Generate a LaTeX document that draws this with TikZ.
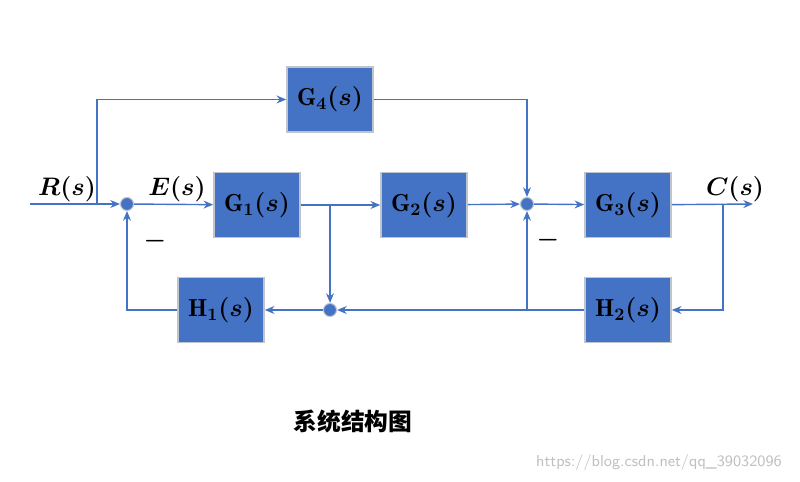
\documentclass[tikz,border=0pt]{standalone}
\usepackage{amsmath}
\usepackage{fontspec}
\newfontfamily\cjk{Noto Sans CJK SC}
\usepackage{tikz}
\usetikzlibrary{arrows.meta, positioning}

\definecolor{ctrlblue}{HTML}{4472C4}
\definecolor{ctrlrim}{HTML}{C0C4CC}

\begin{document}
\begin{tikzpicture}[
    x=0.02cm, y=-0.02cm,
    % Styles
    block/.style={
        rectangle, draw=ctrlrim, fill=ctrlblue, line width=0.9pt,
        minimum width=1.72cm, minimum height=1.3cm,
        font=\fontsize{14}{16}\selectfont\boldmath, text=black
    },
    junction/.style={
        circle, draw=ctrlrim, fill=ctrlblue, line width=0.6pt,
        minimum size=0.26cm, inner sep=0pt
    },
    signal/.style={
        -{Stealth[length=5.5pt, width=4.5pt]}, line width=0.8pt, draw=ctrlblue
    },
    siglabel/.style={
        font=\fontsize{14}{16}\selectfont\boldmath, text=black
    },
    minus/.style={
        font=\fontsize{14}{16}\selectfont\boldmath, text=black
    }
]
\useasboundingbox (0,0) rectangle (800,482);

% ── Blocks ──────────────────────────────────────────────────────────────────
\node[block] (gfour) at (330, 99.5) {$\mathrm{G}_4(s)$};
\node[block] (gone) at (257, 205) {$\mathrm{G}_1(s)$};
\node[block] (gtwo) at (424, 205) {$\mathrm{G}_2(s)$};
\node[block] (gthree) at (628, 205) {$\mathrm{G}_3(s)$};
\node[block] (hone) at (221, 310) {$\mathrm{H}_1(s)$};
\node[block] (htwo) at (628, 310) {$\mathrm{H}_2(s)$};

% ── Summing junctions ───────────────────────────────────────────────────────
\node[junction] (sumone) at (127, 204) {};
\node[junction] (sumtwo) at (330, 310) {};
\node[junction] (sumthree) at (527, 204) {};

% ── Free ends and branch points ─────────────────────────────────────────────
\coordinate (rin) at (30, 204);
\coordinate (rsplit) at (97, 204);
\coordinate (gsplit) at (330, 204);
\coordinate (csplit) at (723, 204);
\coordinate (cout) at (753, 204);
\coordinate (hsplit) at (527, 310);

% ── Signal labels ───────────────────────────────────────────────────────────
\node[siglabel] (rlabel) at (67, 189) {$R(s)$};
\node[siglabel] (elabel) at (177, 189) {$E(s)$};
\node[siglabel] (clabel) at (735, 189) {$C(s)$};
\node[minus] (minusone) at (155, 241) {$-$};
\node[minus] (minusthree) at (548, 240) {$-$};

% ── Arrows ──────────────────────────────────────────────────────────────────

% Forward path
\draw[signal] (rin) -- (sumone);
\draw[signal] (sumone) -- (gone);
\draw[signal] (gone) -- (gtwo);
\draw[signal] (gtwo) -- (sumthree);
\draw[signal] (sumthree) -- (gthree);
\draw[signal] (gthree) -- (cout);

% Feed-forward through G4
\draw[signal] (rsplit) |- (gfour);
\draw[signal] (gfour) -| (sumthree);

% Inner feedback
\draw[signal] (gsplit) -- (sumtwo);
\draw[signal] (sumtwo) -- (hone);
\draw[signal] (hone) -| (sumone);

% Outer feedback
\draw[signal] (csplit) |- (htwo);
\draw[signal] (htwo) -- (sumtwo);
\draw[signal] (hsplit) -- (sumthree);

% Caption
\node[font=\cjk\bfseries\fontsize{13.5}{16}\selectfont] (caption) at (353, 421) {系统结构图};
\node[font=\sffamily\fontsize{9}{11}\selectfont, text=black!25, anchor=east] (mark) at (788, 463) {https://blog.csdn.net/qq\_39032096};

\end{tikzpicture}
\end{document}
